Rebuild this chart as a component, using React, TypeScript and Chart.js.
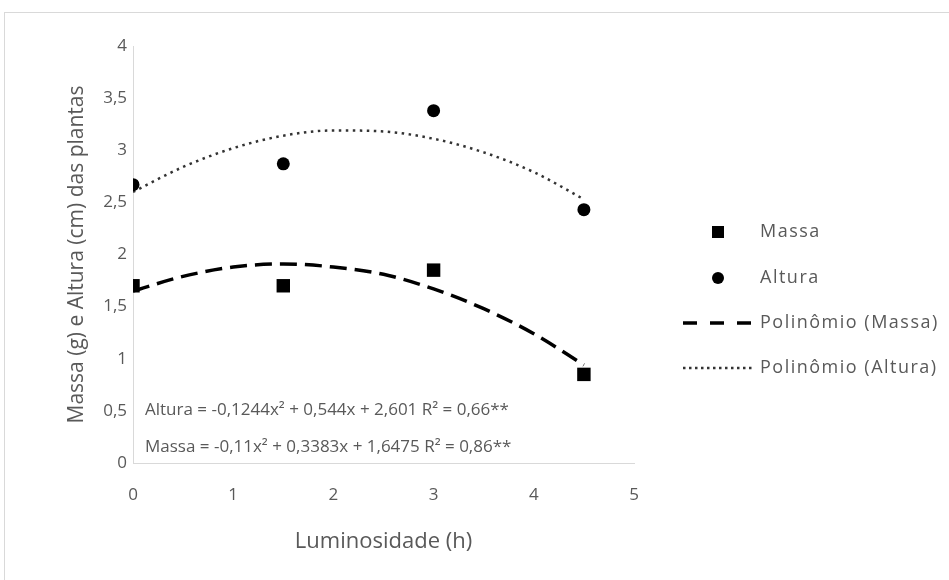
import React, { useEffect, useRef } from "react";
import { Chart, registerables } from "chart.js";
Chart.register(...registerables);

// Observed data (Luminosidade in h)
const luminosidade = [0, 1.5, 3, 4.5];
const massa = [1.7, 1.7, 1.85, 0.85];
const altura = [2.67, 2.87, 3.38, 2.43];

// Trend (polynomial) curves
const trendX = [0, 0.5, 1, 1.5, 2, 2.5, 3, 3.5, 4, 4.5];
const massaTrend = [1.65, 1.79, 1.88, 1.91, 1.88, 1.81, 1.67, 1.48, 1.24, 0.94];
const alturaTrend = [2.6, 2.84, 3.02, 3.14, 3.19, 3.18, 3.11, 2.98, 2.79, 2.53];

const xTicks = [0, 1, 2, 3, 4, 5];
const yTicks = [0, 0.5, 1, 1.5, 2, 2.5, 3, 3.5, 4];

const seriesNames = ["Massa", "Altura", "Polinômio (Massa)", "Polinômio (Altura)"];
const equations = [
  "Altura = -0,1244x² + 0,544x + 2,601 R² = 0,66**",
  "Massa = -0,11x² + 0,3383x + 1,6475 R² = 0,86**",
];
const xTitle = "Luminosidade (h)";
const yTitle = "Massa (g) e Altura (cm) das plantas";

const TEXT = "#595959";
const AXIS = "#d9d9d9";
const FONT = "'Open Sans', 'Noto Sans', sans-serif";

const W = 944;
const H = 567;

const overlayPlugin = {
  id: "overlay",
  afterDraw(chart: any) {
    const ctx = chart.ctx as any;
    const ca = chart.chartArea;
    ctx.save();
    // equations
    ctx.fillStyle = TEXT;
    ctx.font = `17px ${FONT}`;
    ctx.textAlign = "left";
    ctx.textBaseline = "middle";
    ctx.fillText(equations[0], ca.left + 12, 397);
    ctx.fillText(equations[1], ca.left + 12, 434);

    // legend
    const mx = 713;
    const tx = 755;
    const rows = [219, 265, 310, 355];
    ctx.fillStyle = "#000";
    ctx.fillRect(mx - 6, rows[0] - 6, 12, 12);
    ctx.beginPath();
    ctx.arc(mx, rows[1], 6, 0, Math.PI * 2);
    ctx.fill();
    ctx.strokeStyle = "#000";
    ctx.lineWidth = 3.5;
    ctx.setLineDash([14, 13]);
    ctx.beginPath();
    ctx.moveTo(678, rows[2]);
    ctx.lineTo(747, rows[2]);
    ctx.stroke();
    ctx.setLineDash([2.5, 3.5]);
    ctx.lineWidth = 2.5;
    ctx.strokeStyle = "#333";
    ctx.beginPath();
    ctx.moveTo(678, rows[3]);
    ctx.lineTo(747, rows[3]);
    ctx.stroke();
    ctx.setLineDash([]);
    ctx.fillStyle = TEXT;
    ctx.font = `18px ${FONT}`;
    ctx.letterSpacing = "1.5px";
    seriesNames.forEach((n, i) => ctx.fillText(n, tx, rows[i]));
    ctx.restore();
  },
};

export default function App() {
  const ref = useRef<HTMLCanvasElement | null>(null);
  useEffect(() => {
    if (!ref.current) return;
    const chart = new Chart(ref.current, {
      type: "scatter",
      data: {
        datasets: [
          {
            label: seriesNames[0],
            data: luminosidade.map((x, i) => ({ x, y: massa[i] })),
            pointStyle: "rect",
            pointRadius: 9.5,
            backgroundColor: "#000",
            borderColor: "#000",
            borderWidth: 0,
          },
          {
            label: seriesNames[1],
            data: luminosidade.map((x, i) => ({ x, y: altura[i] })),
            pointStyle: "circle",
            pointRadius: 6.5,
            backgroundColor: "#000",
            borderColor: "#000",
            borderWidth: 0,
          },
          {
            label: seriesNames[2],
            data: trendX.map((x, i) => ({ x, y: massaTrend[i] })),
            showLine: true,
            pointRadius: 0,
            borderColor: "#000",
            borderWidth: 3.5,
            borderDash: [17, 8],
            cubicInterpolationMode: "monotone",
          },
          {
            label: seriesNames[3],
            data: trendX.map((x, i) => ({ x, y: alturaTrend[i] })),
            showLine: true,
            pointRadius: 0,
            borderColor: "#333",
            borderWidth: 2.5,
            borderDash: [2.5, 4.5],
            cubicInterpolationMode: "monotone",
          },
        ],
      } as any,
      options: {
        responsive: false,
        animation: false,
        devicePixelRatio: 1,
        layout: { padding: { left: 0, right: 315, top: 33, bottom: 0 } },
        plugins: { legend: { display: false }, tooltip: { enabled: false } },
        scales: {
          x: {
            type: "linear",
            min: 0,
            max: 5,
            afterBuildTicks: (s: any) => {
              s.ticks = xTicks.map((v) => ({ value: v }));
            },
            afterFit: (s: any) => {
              s.height = 117;
            },
            grid: { display: false, drawTicks: false },
            border: { display: true, color: AXIS, width: 1 },
            ticks: { color: TEXT, font: { family: FONT, size: 17 }, padding: 22, maxRotation: 0 },
            title: {
              display: true,
              text: xTitle,
              color: TEXT,
              font: { family: FONT, size: 22 },
              padding: { top: 0, bottom: 25 },
            },
          },
          y: {
            type: "linear",
            min: 0,
            max: 4,
            afterBuildTicks: (s: any) => {
              s.ticks = yTicks.map((v) => ({ value: v }));
            },
            afterFit: (s: any) => {
              s.width = 128;
            },
            grid: { display: false, drawTicks: false },
            border: { display: true, color: AXIS, width: 1 },
            ticks: {
              color: TEXT,
              font: { family: FONT, size: 17 },
              padding: 6,
              callback: (v: any) => String(v).replace(".", ","),
            },
            title: {
              display: true,
              text: yTitle,
              color: TEXT,
              font: { family: FONT, size: 21 },
              padding: { top: 59, bottom: 0 },
            },
          },
        },
      } as any,
      plugins: [overlayPlugin],
    });
    return () => chart.destroy();
  }, []);

  return (
    <div
      style={{
        position: "fixed",
        left: 4,
        top: 12,
        width: W + 40,
        height: H + 40,
        border: `1px solid ${AXIS}`,
        background: "#fff",
      }}
    >
      <canvas ref={ref} width={W} height={H} style={{ width: W, height: H, display: "block" }} />
    </div>
  );
}
